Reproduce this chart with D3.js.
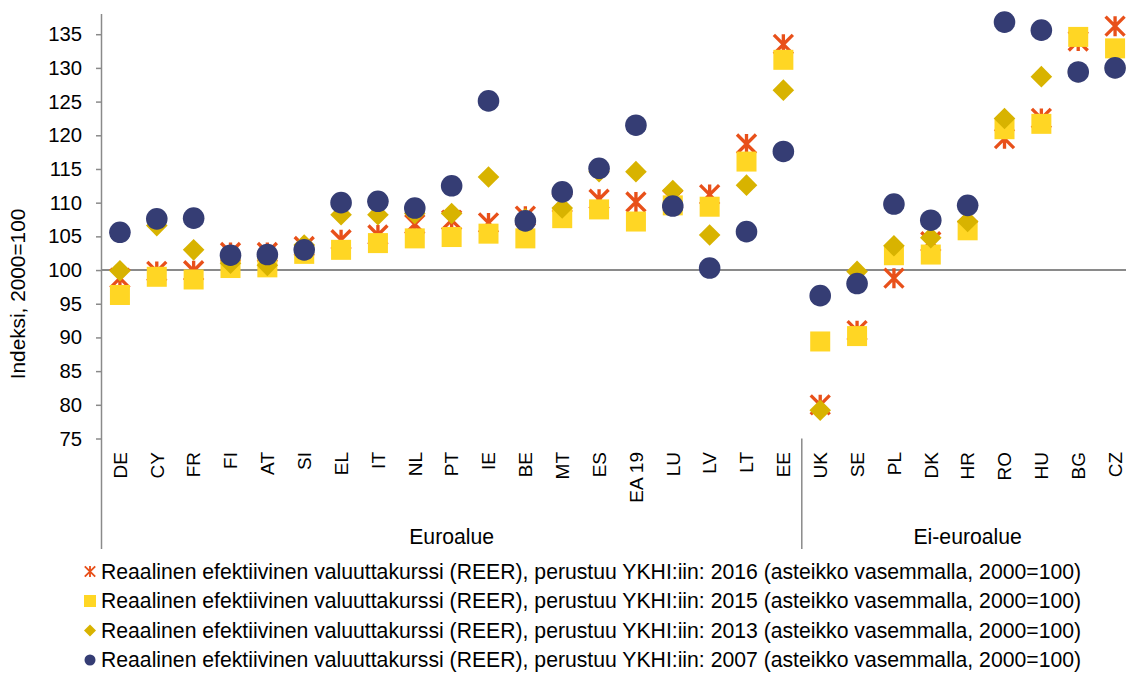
<!DOCTYPE html>
<html>
<head>
<meta charset="utf-8">
<script src="https://cdn.jsdelivr.net/npm/d3@7"></script>
<style>
    body { margin: 0; background: white; }
    text { font-family: "Liberation Sans", Arial, sans-serif; fill: #000; }
</style>
</head>
<body>
<div id="winArea"></div>
<script>
// categories (euro area first, then non-euro)
const categories = ["DE", "CY", "FR", "FI", "AT", "SI", "EL", "IT", "NL", "PT", "IE", "BE", "MT", "ES", "EA 19",
    "LU", "LV", "LT", "EE", "UK", "SE", "PL", "DK", "HR", "RO", "HU", "BG", "CZ"];
const euroCount = 19;
const groupLabels = ["Euroalue", "Ei-euroalue"];

// REER values, 2000=100
const reer2016 = [98.8, 99.8, 99.9, 102.6, 102.6, 103.5, 104.5, 105.2, 106.8, 107.4, 107.0, 108.0, 110.0, 110.5, 110.1,
    110.5, 111.2, 118.7, 133.5, 80.0, 91.0, 98.8, 104.2, 108.4, 119.5, 122.5, 134.0, 136.2];
const reer2015 = [96.3, 99.0, 98.6, 100.3, 100.4, 102.4, 103.0, 104.0, 104.7, 104.9, 105.4, 104.7, 107.7, 109.0, 107.2,
    109.6, 109.4, 116.1, 131.2, 89.4, 90.2, 102.2, 102.3, 105.9, 120.9, 121.7, 134.6, 132.9];
const reer2013 = [99.9, 106.6, 103.0, 101.0, 100.7, 103.7, 108.2, 108.2, 108.4, 108.4, 113.8, 107.6, 109.2, 114.6, 114.6,
    111.8, 105.2, 112.6, 126.7, 79.2, 99.8, 103.6, 104.8, 107.2, 122.5, 128.7, 129.4, 130.0];
const reer2007 = [105.6, 107.6, 107.7, 102.2, 102.3, 103.0, 110.0, 110.2, 109.2, 112.5, 125.1, 107.3, 111.6, 115.1, 121.5,
    109.5, 100.3, 105.7, 117.6, 96.2, 98.0, 109.8, 107.4, 109.6, 136.8, 135.6, 129.4, 130.0];

const yTicks = [75, 80, 85, 90, 95, 100, 105, 110, 115, 120, 125, 130, 135];
const yTitle = "Indeksi, 2000=100";

// series in drawing order (first is drawn under the others)
const series = [
    { name: "Reaalinen efektiivinen valuuttakurssi (REER), perustuu YKHI:iin: 2016 (asteikko vasemmalla, 2000=100)", values: reer2016, shape: "star", color: "#E8501A" },
    { name: "Reaalinen efektiivinen valuuttakurssi (REER), perustuu YKHI:iin: 2015 (asteikko vasemmalla, 2000=100)", values: reer2015, shape: "square", color: "#FFD624" },
    { name: "Reaalinen efektiivinen valuuttakurssi (REER), perustuu YKHI:iin: 2013 (asteikko vasemmalla, 2000=100)", values: reer2013, shape: "diamond", color: "#D8B300" },
    { name: "Reaalinen efektiivinen valuuttakurssi (REER), perustuu YKHI:iin: 2007 (asteikko vasemmalla, 2000=100)", values: reer2007, shape: "circle", color: "#353D74" }
];

const width = 1126;
const height = 673;
const left = 101.5;
const plotTop = 14;
const plotBottom = 438.5;
const catBottom = 549;

const svg = d3.select("#winArea")
    .append("svg")
    .attr("width", width)
    .attr("height", height);

//scales
const xScale = d3.scaleBand()
    .domain(categories)
    .range([left, 1133.5])
    .padding(0);

const yScale = d3.scaleLinear()
    .domain([75, 138])
    .range([plotBottom, plotTop]);

//line at 100
svg.append("line")
    .attr("x1", left).attr("x2", width)
    .attr("y1", yScale(100)).attr("y2", yScale(100))
    .attr("stroke", "#8a8a8a")
    .attr("stroke-width", 2);

//y axis
const yAxis = svg.append("g")
    .attr("transform", `translate(${left}, 0)`)
    .call(d3.axisLeft(yScale).tickValues(yTicks).tickSize(5.5).tickPadding(14));
yAxis.select(".domain").remove();
yAxis.selectAll(".tick line").attr("stroke", "#8a8a8a").attr("stroke-width", 1.5);
yAxis.selectAll(".tick text")
    .style("font-family", "'Liberation Sans', Arial, sans-serif")
    .style("font-size", "20.3px")
    .attr("fill", "#000");

//y axis line going down through the category area
svg.append("line")
    .attr("x1", left).attr("x2", left)
    .attr("y1", plotTop).attr("y2", catBottom)
    .attr("stroke", "#8a8a8a")
    .attr("stroke-width", 1.5);

//separator between euro and non-euro
const sepX = xScale(categories[euroCount]);
svg.append("line")
    .attr("x1", sepX).attr("x2", sepX)
    .attr("y1", plotBottom).attr("y2", catBottom)
    .attr("stroke", "#8a8a8a")
    .attr("stroke-width", 1.5);

//y axis title
svg.append("text")
    .attr("transform", `translate(25, 294) rotate(-90)`)
    .attr("text-anchor", "middle")
    .style("font-size", "20.8px")
    .text(yTitle);

//category labels
svg.selectAll(".cat")
    .data(categories)
    .join("text")
    .attr("class", "cat")
    .attr("transform", d => `translate(${xScale(d) + xScale.bandwidth() / 2}, 452) rotate(-90)`)
    .attr("dy", "0.36em")
    .attr("text-anchor", "end")
    .style("font-size", "19px")
    .text(d => d);

//group labels
const groupCenters = [
    (left + sepX) / 2,
    (sepX + xScale.range()[1]) / 2
];
svg.selectAll(".grp")
    .data(groupLabels)
    .join("text")
    .attr("class", "grp")
    .attr("x", (d, i) => groupCenters[i])
    .attr("y", 544)
    .attr("text-anchor", "middle")
    .style("font-size", "21.2px")
    .text(d => d);

//marker drawing
function drawMarker(sel, shape, color, s) {
    if (shape === "circle") {
        sel.append("circle").attr("r", s).attr("fill", color);
    } else if (shape === "square") {
        sel.append("rect").attr("x", -s).attr("y", -s).attr("width", 2 * s).attr("height", 2 * s).attr("fill", color);
    } else if (shape === "diamond") {
        sel.append("path").attr("d", `M0,${-s}L${s},0L0,${s}L${-s},0Z`).attr("fill", color);
    } else {
        const a = s * 0.95;
        sel.append("path")
            .attr("d", `M${-a},${-a}L${a},${a}M${-a},${a}L${a},${-a}M0,${-s}L0,${s}`)
            .attr("stroke", color)
            .attr("stroke-width", s / 3)
            .attr("fill", "none");
    }
}

const markerSize = { star: 10, square: 10, diamond: 10.8, circle: 10.8 };
const legendSize = { star: 5.5, square: 6, diamond: 6, circle: 5.5 };

series.forEach(s => {
    const g = svg.append("g");
    g.selectAll("g")
        .data(s.values.map((v, i) => ({ cat: categories[i], v: v })).filter(d => d.v != null))
        .join("g")
        .attr("transform", d => `translate(${xScale(d.cat) + xScale.bandwidth() / 2}, ${yScale(d.v)})`)
        .each(function () {
            drawMarker(d3.select(this), s.shape, s.color, markerSize[s.shape]);
        });
});

//legend
const legend = svg.append("g");
const legendRows = legend.selectAll("g")
    .data(series)
    .join("g")
    .attr("transform", (d, i) => `translate(90, ${571.5 + i * 29.5})`);

legendRows.each(function (d) {
    drawMarker(d3.select(this), d.shape, d.color, legendSize[d.shape]);
});

legendRows.append("text")
    .attr("x", 11)
    .attr("dy", "0.35em")
    .style("font-size", "21.2px")
    .text(d => d.name);
</script>
</body>
</html>
